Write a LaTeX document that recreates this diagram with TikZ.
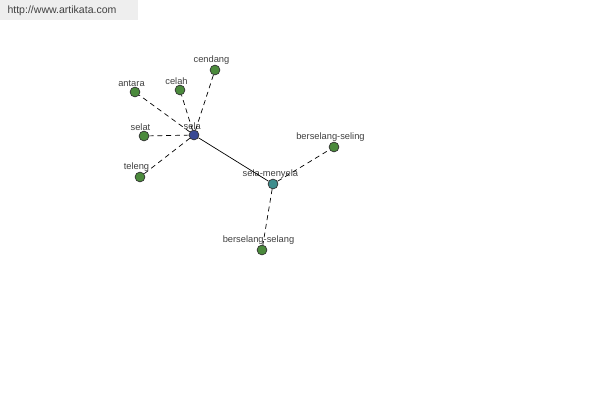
\documentclass[tikz,border=0pt]{standalone}
\usepackage{fontspec}
\setmainfont{Liberation Sans}
\usetikzlibrary{positioning}
\definecolor{akGreen}{HTML}{4B8A3C}
\definecolor{akBlue}{HTML}{3A4A94}
\definecolor{akTeal}{HTML}{3F8E8E}
\definecolor{akText}{HTML}{404040}
\definecolor{akBanner}{HTML}{EEEEEE}
\tikzset{
  word/.style={
    circle, draw=black!80, thin, fill=#1,
    minimum size=5.6pt, inner sep=0pt
  },
  wordlabel/.style={font=\fontsize{5.3}{6}\selectfont, text=akText, inner sep=1pt},
  solidlink/.style={black, thin},
  dashlink/.style={black, thin, dash pattern=on 2.8pt off 2.2pt}
}
\begin{document}
\begin{tikzpicture}[
  x=0.02cm, y=-0.02cm,
  headword/.style={word=akBlue, label={[wordlabel, label distance=-1.2pt, xshift=-1pt]above:#1}},
  midword/.style={word=akTeal, label={[wordlabel, label distance=-1.2pt, xshift=-1.5pt]above:#1}},
  leafword/.style={word=akGreen, label={[wordlabel, label distance=-1.2pt, xshift=-2pt]above:#1}}
]
\useasboundingbox (0,0) rectangle (600,400);

% Banner
\node[fill=akBanner, minimum width=138*0.02cm, minimum height=20*0.02cm, anchor=north west,
  inner sep=0pt] (banner) at (0,0) {};
\node[font=\fontsize{6}{7}\selectfont, text=akText] (url) at (62,11) {http://www.artikata.com};

% Links
\coordinate (csela) at (194,135);
\coordinate (cmenyela) at (273,184);

% Words
\node[headword=sela] (sela) at (csela) {};
\node[midword=sela-menyela] (selamenyela) at (cmenyela) {};
\node[leafword=antara] (antara) at (135,92) {};
\node[leafword=celah] (celah) at (180,90) {};
\node[leafword=cendang] (cendang) at (215,70) {};
\node[leafword=selat] (selat) at (144,136) {};
\node[leafword=teleng] (teleng) at (140,177) {};
\node[leafword=berselang-seling] (seling) at (334,147) {};
\node[leafword=berselang-selang] (selang) at (262,250) {};

% Links
\draw[solidlink] (sela) -- (selamenyela);
\foreach \w in {antara,celah,cendang,selat,teleng}
  \draw[dashlink] (sela) -- (\w);
\foreach \w in {seling,selang}
  \draw[dashlink] (selamenyela) -- (\w);

\end{tikzpicture}
\end{document}
